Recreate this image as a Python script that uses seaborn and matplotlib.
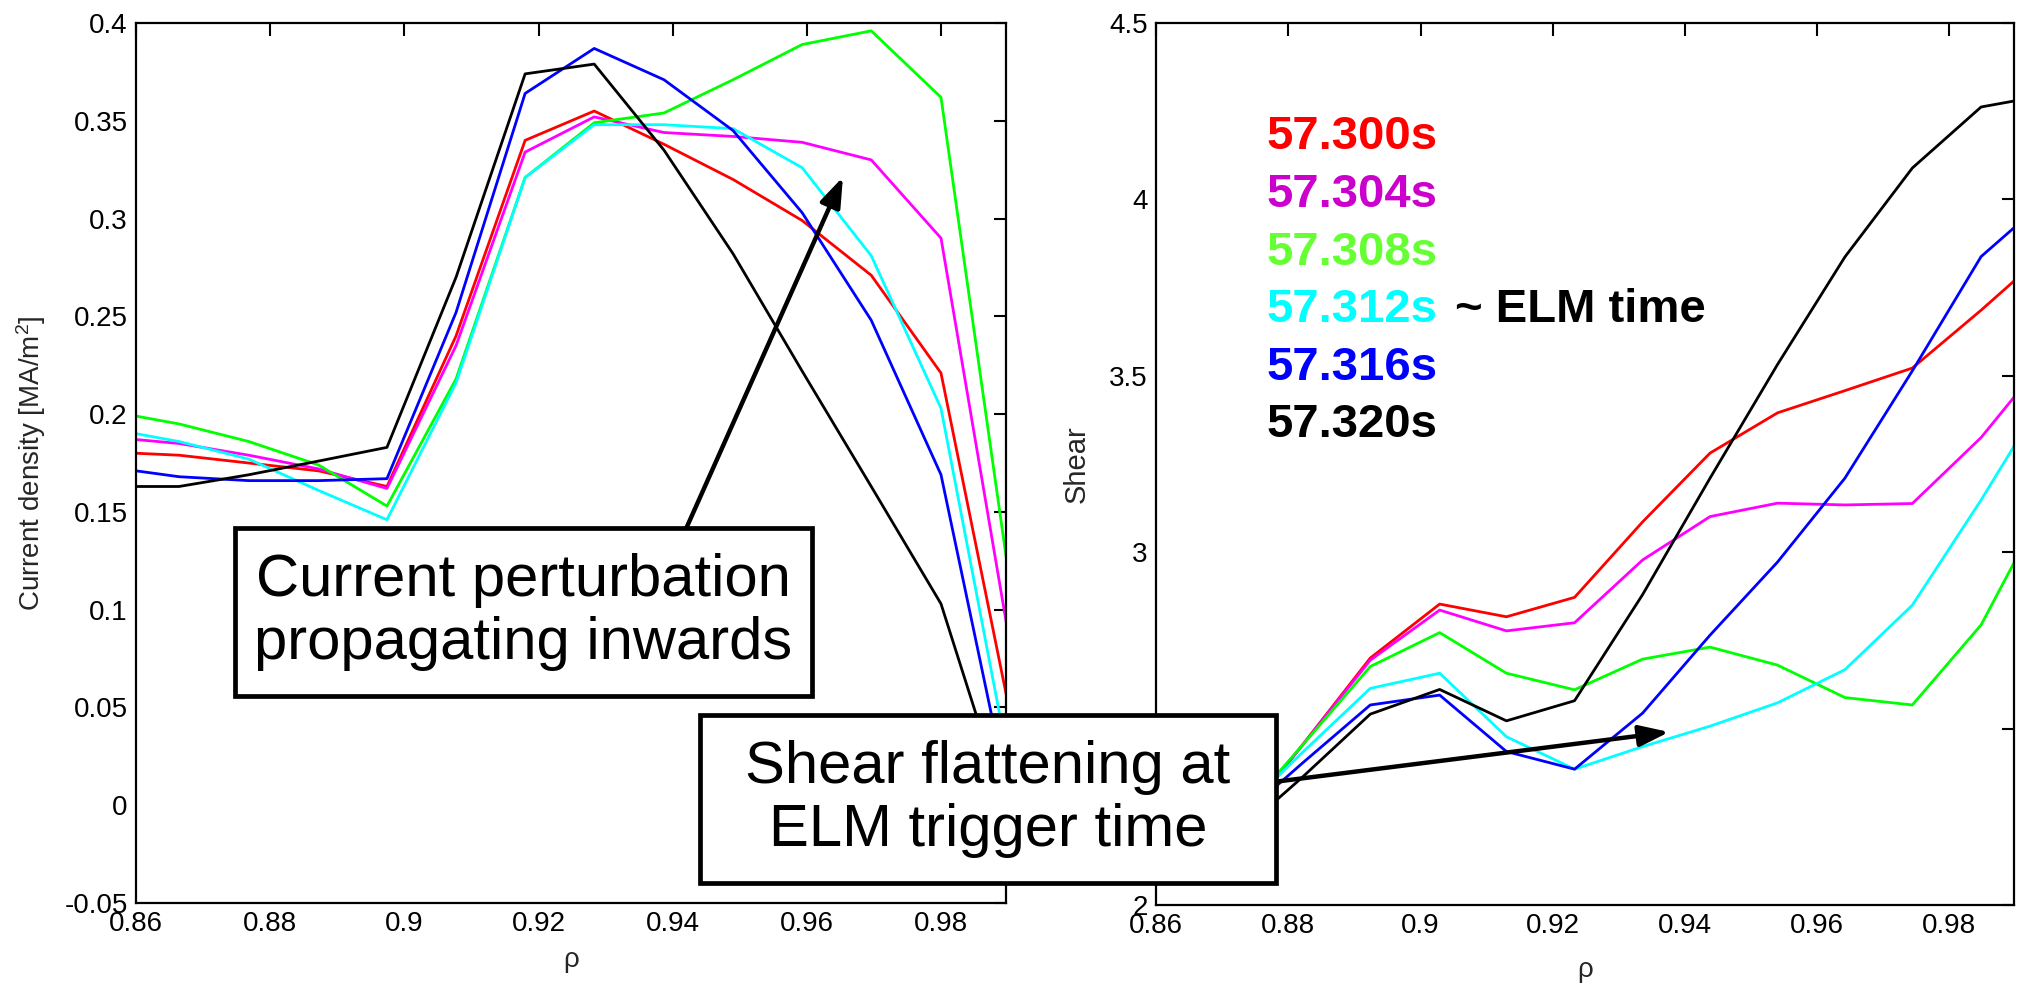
import numpy as np
import pandas as pd
import matplotlib
matplotlib.use("Agg")
import matplotlib.pyplot as plt
import seaborn as sns
from matplotlib.patches import Rectangle, FancyArrowPatch
from matplotlib.ticker import FormatStrFormatter

# ---------------- data ----------------
times = ["57.300s", "57.304s", "57.308s", "57.312s", "57.316s", "57.320s"]
line_colors = ["#FF0000", "#FF00FF", "#00FF00", "#00FFFF", "#0000FF", "#000000"]
text_colors = ["#FF0000", "#CC00CC", "#66FF33", "#00FFFF", "#0000FF", "#000000"]

rho_j = [0.8600, 0.8664, 0.8768, 0.8872, 0.8974, 0.9077, 0.9180,
         0.9283, 0.9387, 0.9490, 0.9593, 0.9696, 0.9800, 0.9900]
j_300 = [0.180, 0.179, 0.175, 0.171, 0.163, 0.240, 0.340, 0.355, 0.338, 0.320, 0.299, 0.271, 0.221, 0.052]
j_304 = [0.187, 0.185, 0.179, 0.172, 0.162, 0.235, 0.334, 0.352, 0.344, 0.342, 0.339, 0.330, 0.290, 0.088]
j_308 = [0.199, 0.195, 0.186, 0.174, 0.153, 0.218, 0.321, 0.349, 0.354, 0.371, 0.389, 0.396, 0.362, 0.120]
j_312 = [0.190, 0.186, 0.177, 0.161, 0.146, 0.216, 0.321, 0.348, 0.348, 0.346, 0.326, 0.281, 0.203, 0.024]
j_316 = [0.171, 0.168, 0.166, 0.166, 0.167, 0.252, 0.364, 0.387, 0.371, 0.345, 0.303, 0.248, 0.169, 0.006]
j_320 = [0.163, 0.163, 0.169, 0.176, 0.183, 0.270, 0.374, 0.379, 0.335, 0.282, 0.222, 0.163, 0.103, -0.005]

rho_s = [0.8717, 0.8820, 0.8924, 0.9029, 0.9130, 0.9233, 0.9336,
         0.9438, 0.9540, 0.9642, 0.9744, 0.9848, 0.9898]
s_300 = [2.21, 2.45, 2.700, 2.853, 2.817, 2.872, 3.086, 3.281, 3.395, 3.458, 3.522, 3.686, 3.769]
s_304 = [2.21, 2.45, 2.694, 2.836, 2.777, 2.800, 2.978, 3.101, 3.139, 3.134, 3.138, 3.325, 3.440]
s_308 = [2.23, 2.45, 2.676, 2.772, 2.657, 2.610, 2.697, 2.731, 2.680, 2.588, 2.567, 2.794, 2.971]
s_312 = [2.24, 2.43, 2.614, 2.657, 2.477, 2.385, 2.449, 2.507, 2.573, 2.667, 2.850, 3.148, 3.301]
s_316 = [2.23, 2.40, 2.567, 2.595, 2.435, 2.385, 2.544, 2.765, 2.972, 3.210, 3.514, 3.838, 3.920]
s_320 = [2.19, 2.36, 2.541, 2.611, 2.522, 2.579, 2.880, 3.210, 3.532, 3.837, 4.089, 4.262, 4.279]

x_ticks = [0.86, 0.88, 0.90, 0.92, 0.94, 0.96, 0.98]
j_ticks = [-0.05, 0, 0.05, 0.1, 0.15, 0.2, 0.25, 0.3, 0.35, 0.4]
s_ticks = [2, 2.5, 3, 3.5, 4, 4.5]

# ---------------- build frames ----------------
j_series = [j_300, j_304, j_308, j_312, j_316, j_320]
s_series = [s_300, s_304, s_308, s_312, s_316, s_320]
dfj = pd.concat([pd.DataFrame({"rho": rho_j, "val": v, "time": t}) for t, v in zip(times, j_series)])
dfs = pd.concat([pd.DataFrame({"rho": rho_s, "val": v, "time": t}) for t, v in zip(times, s_series)])
palette = dict(zip(times, line_colors))

sns.set_theme(style="white")
plt.rcParams["font.family"] = ["Liberation Sans", "DejaVu Sans"]
plt.rcParams["mathtext.default"] = "regular"

fig = plt.figure(figsize=(20.19, 9.88), dpi=100)
ax1 = fig.add_axes([0.0674, 0.0860, 0.4309, 0.8907])
ax2 = fig.add_axes([0.5726, 0.0840, 0.4250, 0.8927])

sns.lineplot(data=dfj, x="rho", y="val", hue="time", hue_order=times, palette=palette,
             legend=False, ax=ax1, linewidth=2.0, estimator=None, sort=False)
sns.lineplot(data=dfs, x="rho", y="val", hue="time", hue_order=times, palette=palette,
             legend=False, ax=ax2, linewidth=2.0, estimator=None, sort=False)

ax1.set_xlim(0.86, 0.9897)
ax1.set_ylim(-0.05, 0.4)
ax2.set_xlim(0.86, 0.9898)
ax2.set_ylim(2, 4.5)
ax1.set_yticks(j_ticks)
ax2.set_yticks(s_ticks)
for ax in (ax1, ax2):
    ax.set_xticks(x_ticks)
    ax.xaxis.set_major_formatter(FormatStrFormatter("%g"))
    ax.yaxis.set_major_formatter(FormatStrFormatter("%g"))
    ax.tick_params(direction="in", top=True, right=True, length=9, width=1.5,
                   labelsize=20, colors="black", pad=6)
    for sp in ax.spines.values():
        sp.set_visible(True)
        sp.set_color("black")
        sp.set_linewidth(1.6)
    ax.grid(False)

ax1.set_xlabel("ρ", fontsize=20)
ax1.set_ylabel("Current density [MA/m$^{2}$]", fontsize=20)
ax2.set_xlabel("ρ", fontsize=20)
ax2.set_ylabel("Shear", fontsize=21)
ax1.yaxis.set_label_coords(-0.101, 0.5)
ax2.yaxis.set_label_coords(-0.076, 0.5)
ax1.xaxis.set_label_coords(0.5, -0.05)
ax2.xaxis.set_label_coords(0.5, -0.059)

# time labels
label_y = [0.8707, 0.805, 0.739, 0.6746, 0.609, 0.544]
for t, c, y in zip(times, text_colors, label_y):
    ax2.text(0.1282, y, t, color=c, fontsize=34, fontweight="bold",
             ha="left", va="center", transform=ax2.transAxes)
ax2.text(0.3485, label_y[3], "~ ELM time", color="black", fontsize=34,
         fontweight="bold", ha="left", va="center", transform=ax2.transAxes)

# arrows
arrow_style = "-|>,head_length=0.45,head_width=0.16"
fig.add_artist(FancyArrowPatch((0.3373, 0.4534), (0.4175, 0.8209), transform=fig.transFigure,
                               arrowstyle=arrow_style, mutation_scale=40, lw=3.2,
                               color="black", shrinkA=0, shrinkB=0, zorder=9))
fig.add_artist(FancyArrowPatch((0.6191, 0.2055), (0.8267, 0.2591), transform=fig.transFigure,
                               arrowstyle=arrow_style, mutation_scale=40, lw=3.2,
                               color="black", shrinkA=0, shrinkB=0, zorder=9))

# annotation boxes
fig.add_artist(Rectangle((0.1164, 0.2955), 0.2858, 0.170, transform=fig.transFigure,
                         facecolor="white", edgecolor="black", lw=3.4, zorder=10))
fig.text(0.2593, 0.3806, "Current perturbation\npropagating inwards", ha="center",
         va="center", fontsize=43, linespacing=1.18, zorder=11, color="black")
fig.add_artist(Rectangle((0.3467, 0.1063), 0.2853, 0.170, transform=fig.transFigure,
                         facecolor="white", edgecolor="black", lw=3.4, zorder=10))
fig.text(0.4894, 0.1913, "Shear flattening at\nELM trigger time", ha="center",
         va="center", fontsize=43, linespacing=1.18, zorder=11, color="black")

fig.savefig("out.png", dpi=100, facecolor="white")
